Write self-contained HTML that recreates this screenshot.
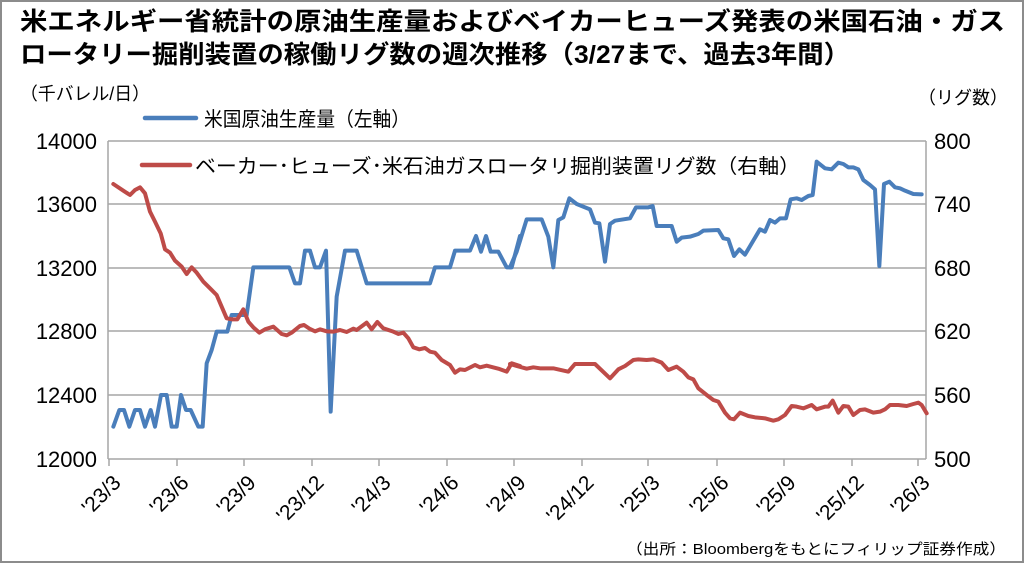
<!DOCTYPE html>
<html><head><meta charset="utf-8"><style>
body{margin:0;background:#fff}
svg{display:block;font-family:"Liberation Sans","Noto Sans CJK JP",sans-serif}
</style></head><body>
<svg width="1024" height="563" viewBox="0 0 1024 563" xmlns="http://www.w3.org/2000/svg">
<rect x="1" y="1" width="1022" height="561" fill="#fff" stroke="#8c8c8c" stroke-width="2"/>
<text x="20" y="30" font-size="25" font-weight="bold" fill="#000" textLength="985" lengthAdjust="spacingAndGlyphs">米エネルギー省統計の原油生産量およびベイカーヒューズ発表の米国石油・ガス</text>
<text x="20" y="63" font-size="25" font-weight="bold" fill="#000" textLength="830" lengthAdjust="spacingAndGlyphs">ロータリー掘削装置の稼働リグ数の週次推移（3/27まで、過去3年間）</text>
<text x="20" y="100" font-size="18" textLength="130" lengthAdjust="spacingAndGlyphs">（千バレル/日）</text>
<text x="918" y="104" font-size="18" textLength="90" lengthAdjust="spacingAndGlyphs">（リグ数）</text>
<g stroke="#a6a6a6" stroke-width="1.5">
<line x1="108" y1="141" x2="926" y2="141"/><line x1="108" y1="204" x2="926" y2="204"/>
<line x1="108" y1="268" x2="926" y2="268"/><line x1="108" y1="331" x2="926" y2="331"/>
<line x1="108" y1="395" x2="926" y2="395"/><line x1="108" y1="459" x2="926" y2="459"/>
<line x1="108" y1="141" x2="108" y2="459"/><line x1="926" y1="141" x2="926" y2="459"/>
<line x1="109" y1="459" x2="109" y2="466"/><line x1="177" y1="459" x2="177" y2="466"/><line x1="244" y1="459" x2="244" y2="466"/><line x1="312" y1="459" x2="312" y2="466"/><line x1="379" y1="459" x2="379" y2="466"/><line x1="447" y1="459" x2="447" y2="466"/><line x1="514" y1="459" x2="514" y2="466"/><line x1="582" y1="459" x2="582" y2="466"/><line x1="648" y1="459" x2="648" y2="466"/><line x1="717" y1="459" x2="717" y2="466"/><line x1="784" y1="459" x2="784" y2="466"/><line x1="852" y1="459" x2="852" y2="466"/><line x1="918" y1="459" x2="918" y2="466"/>
</g>
<g font-size="22" text-anchor="end">
<text x="97" y="149">14000</text><text x="97" y="212">13600</text><text x="97" y="276">13200</text><text x="97" y="339">12800</text><text x="97" y="403">12400</text><text x="97" y="467">12000</text>
</g>
<g font-size="22">
<text x="934" y="149">800</text><text x="934" y="212">740</text><text x="934" y="276">680</text><text x="934" y="339">620</text><text x="934" y="403">560</text><text x="934" y="467">500</text>
</g>
<g font-size="21" text-anchor="end">
<text transform="translate(122,484) rotate(-45)">'23/3</text><text transform="translate(190,484) rotate(-45)">'23/6</text><text transform="translate(257,484) rotate(-45)">'23/9</text><text transform="translate(325,484) rotate(-45)">'23/12</text><text transform="translate(392,484) rotate(-45)">'24/3</text><text transform="translate(460,484) rotate(-45)">'24/6</text><text transform="translate(527,484) rotate(-45)">'24/9</text><text transform="translate(595,484) rotate(-45)">'24/12</text><text transform="translate(661,484) rotate(-45)">'25/3</text><text transform="translate(730,484) rotate(-45)">'25/6</text><text transform="translate(797,484) rotate(-45)">'25/9</text><text transform="translate(865,484) rotate(-45)">'25/12</text><text transform="translate(931,484) rotate(-45)">'26/3</text>
</g>
<line x1="145" y1="118" x2="196" y2="118" stroke="#4a7ebb" stroke-width="4.5" stroke-linecap="round"/>
<text x="204" y="126" font-size="20" textLength="206" lengthAdjust="spacingAndGlyphs">米国原油生産量（左軸）</text>
<line x1="142" y1="165" x2="190" y2="165" stroke="#be4b48" stroke-width="4.5" stroke-linecap="round"/>
<text x="195" y="173" font-size="20" textLength="605" lengthAdjust="spacingAndGlyphs">ベーカー･ヒューズ･米石油ガスロータリ掘削装置リグ数（右軸）</text>
<g fill="none" stroke-width="4" stroke-linejoin="round" stroke-linecap="round">
<g transform="translate(100,130) scale(0.33333)">
<polyline vector-effect="non-scaling-stroke" stroke="#4a7ebb" points="40,890 58,840 72,840 88,890 105,840 120,840 135,890 152,840 165,890 183,795 200,795 215,890 230,890 243,795 258,840 272,840 295,890 308,890 320,700 335,660 350,605 382,605 395,555 410,555 440,555 460,412 568,412 585,460 600,460 615,362 630,362 645,412 660,412 678,362 692,845 710,500 735,362 770,362 800,460 990,460 1005,412 1050,412 1065,362 1110,362 1128,318 1143,365 1158,318 1172,365 1195,365 1220,412 1235,412 1260,318"/>
<polyline vector-effect="non-scaling-stroke" stroke="#be4b48" points="40,162 70,182 90,195 105,180 120,172 135,190 150,245 165,275 182,310 195,358 210,368 225,392 245,410 260,432 275,412 290,428 310,455 330,475 350,495 365,530 380,565 395,568 412,568 430,538 445,575 460,592 478,608 495,598 520,590 545,612 560,616 575,608 600,588 612,585 630,597 645,604 660,598 680,604 700,605 720,600 740,606 760,596 770,600 800,578 815,598 832,576 850,595 880,605 895,612 910,608 925,625 940,652 958,658 975,654 990,665 1005,668 1025,690 1050,705 1065,728 1080,718 1095,720 1125,705 1140,712 1160,707 1195,716 1220,725 1235,700 1260,708"/>
</g>
<g transform="translate(510,130) scale(0.33333)">
<polyline vector-effect="non-scaling-stroke" stroke="#4a7ebb" points="0,412 20,365 50,268 95,268 115,320 130,412 145,270 160,262 178,205 200,222 240,238 255,278 268,280 285,395 300,282 315,272 360,265 378,232 415,232 428,228 440,288 485,288 500,335 515,323 540,320 565,312 580,302 625,300 640,325 655,328 672,378 688,358 705,374 725,340 750,298 765,305 780,270 795,278 810,265 828,265 842,208 860,205 875,210 895,198 908,195 920,95 945,115 965,118 985,98 1000,102 1015,112 1030,112 1045,118 1060,150 1080,165 1095,178 1108,408 1122,162 1138,155 1155,172 1170,175 1185,182 1210,192 1235,193"/>
<polyline vector-effect="non-scaling-stroke" stroke="#be4b48" points="0,702 20,708 50,716 70,712 90,715 130,715 175,725 195,702 255,702 300,745 325,718 345,708 370,690 385,688 410,690 430,688 455,698 475,720 500,710 520,725 535,742 550,748 565,775 590,795 610,810 625,815 645,848 660,865 672,868 690,848 715,858 735,862 765,865 790,872 805,868 825,855 845,828 860,830 880,835 905,825 920,838 945,830 955,830 968,812 985,848 1000,828 1015,830 1030,855 1050,840 1065,838 1090,848 1110,845 1125,838 1140,825 1165,825 1190,828 1210,822 1225,818 1235,825 1250,850"/>
</g>
</g>
<text x="1006" y="554" font-size="15" text-anchor="end" textLength="380" lengthAdjust="spacingAndGlyphs">（出所：Bloombergをもとにフィリップ証券作成）</text>
</svg>
</body></html>
